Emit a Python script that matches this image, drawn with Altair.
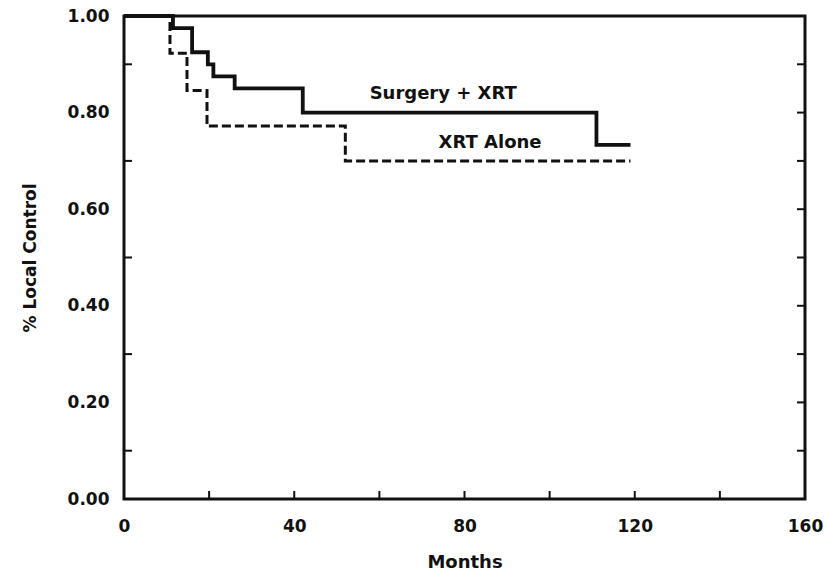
import altair as alt
import pandas as pd

# Surgery + XRT (solid)
surg_months = [0, 11.5, 16, 19.7, 21, 26, 42, 111, 119]
surg_values = [1.0, 0.975, 0.925, 0.90, 0.875, 0.85, 0.80, 0.733, 0.733]
# XRT Alone (dashed)
xrt_months = [0, 10.8, 14.8, 19.5, 52, 119]
xrt_values = [1.0, 0.923, 0.846, 0.772, 0.70, 0.70]

label_texts = ["Surgery  +  XRT", "XRT   Alone"]
label_months = [75, 86]
label_values = [0.838, 0.737]

x_labels = [0, 40, 80, 120, 160]
y_labels = [0.0, 0.2, 0.4, 0.6, 0.8, 1.0]
bottom_ticks = [20, 40, 60, 80, 100, 120, 140]
right_ticks = [0.1, 0.2, 0.3, 0.4, 0.5, 0.6, 0.7, 0.8, 0.9]
left_ticks = [0.1, 0.3, 0.5, 0.7, 0.9]

FONT = "DejaVu Sans"
INK = "#111"
W, H = 681, 483

xs = alt.Scale(domain=[0, 160], nice=False, zero=False)
ys = alt.Scale(domain=[0, 1], nice=False, zero=False)

surg = pd.DataFrame({"m": surg_months, "v": surg_values})
xrt = pd.DataFrame({"m": xrt_months, "v": xrt_values})

xaxis = alt.Axis(values=x_labels, title="Months", ticks=False, domain=False, grid=False,
                 labelFont=FONT, labelFontWeight="bold", labelFontSize=17, labelColor=INK,
                 labelPadding=19, titleFont=FONT, titleFontWeight="bold", titleFontSize=18,
                 titleColor=INK, titlePadding=19, labelFlush=False)
yaxis = alt.Axis(values=y_labels, title="% Local Control", ticks=False, domain=False, grid=False,
                 format=".2f", labelFont=FONT, labelFontWeight="bold", labelFontSize=17,
                 labelColor=INK, labelPadding=15, titleFont=FONT, titleFontWeight="bold",
                 titleFontSize=17, titleColor=INK, titlePadding=28, labelFlush=False)

X = lambda: alt.X("m:Q", scale=xs, axis=xaxis, title="Months")
Y = lambda: alt.Y("v:Q", scale=ys, axis=yaxis, title="% Local Control")

solid = alt.Chart(surg).mark_line(interpolate="step-after", color=INK, strokeWidth=3.8).encode(
    x=X(), y=Y())
dashed = alt.Chart(xrt).mark_line(interpolate="step-after", color=INK, strokeWidth=3,
                                   strokeDash=[9, 4]).encode(x=X(), y=Y())

labels = alt.Chart(pd.DataFrame({"t": label_texts, "m": label_months, "v": label_values})).mark_text(
    font=FONT, fontWeight="bold", fontSize=18, color=INK, align="center", baseline="middle"
).encode(x=X(), y=Y(), text="t:N")

bt = alt.Chart(pd.DataFrame({"m": bottom_ticks})).mark_rule(color=INK, strokeWidth=2).encode(
    x=X(), y=alt.value(H), y2=alt.value(H - 8))
rt = alt.Chart(pd.DataFrame({"v": right_ticks})).mark_rule(color=INK, strokeWidth=2).encode(
    y=Y(), x=alt.value(W), x2=alt.value(W - 8))
lt = alt.Chart(pd.DataFrame({"v": left_ticks})).mark_rule(color=INK, strokeWidth=2).encode(
    y=Y(), x=alt.value(0), x2=alt.value(8))

chart = alt.layer(solid, dashed, labels, bt, rt, lt).properties(
    width=W, height=H,
    background="white",
    autosize=alt.AutoSizeParams(type="none"),
    padding={"left": 124, "top": 16, "right": 20, "bottom": 74},
).configure_view(stroke=INK, strokeWidth=3)

chart.save("out.html", embed_options={"renderer": "svg", "actions": False})
